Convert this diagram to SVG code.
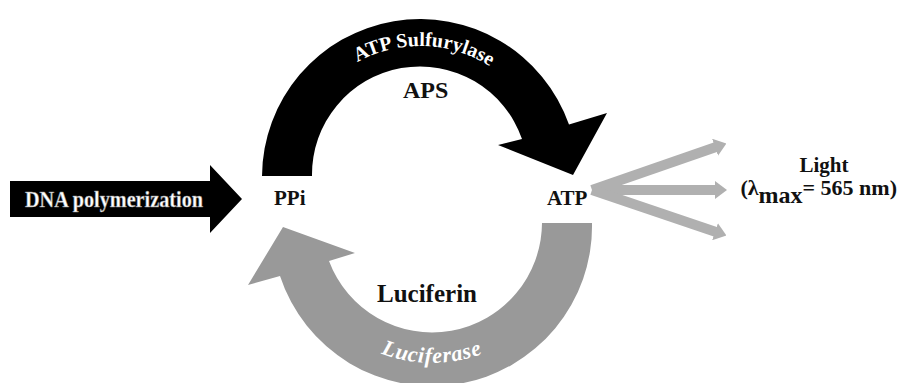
<svg xmlns="http://www.w3.org/2000/svg" width="899" height="383" viewBox="0 0 899 383">
<style>
.lbl{font-family:"Liberation Serif","Times New Roman",serif;font-weight:bold;fill:#111}
.arc-txt{font-family:"Liberation Serif","Times New Roman",serif;font-weight:bold;fill:#fff}
.light{stroke:#b0b0b0;stroke-width:10;fill:none}
</style>
<defs>
<marker id="lh" viewBox="0 0 12 18" markerWidth="12" markerHeight="18" refX="1" refY="9" orient="auto" markerUnits="userSpaceOnUse">
<path d="M0,0 L12,9 L0,18 z" fill="#b0b0b0"/>
</marker>
<path id="topArc" d="M 290,176 A 130,130 0 0 1 550,176"/>
<path id="botArc" d="M 292,223 A 140,140 0 0 0 572,223"/>
</defs>
<rect width="899" height="383" fill="#fff"/>
<g id="connectors">
<g id="dna-arrow">
<polygon points="10,181 210,181 210,165 242,199 210,233 210,217 10,217" fill="#000"/>
<text x="25" y="207" font-family="Liberation Serif, Times New Roman, serif" font-weight="bold" font-size="23" fill="#fff" stroke="#888" stroke-width="0.5" textLength="178" lengthAdjust="spacingAndGlyphs">DNA polymerization</text>
</g>
<g id="sulfurylase-arrow">
<path d="M 262,176 A 158,158 0 0 1 569,124.5 L 607,113 L 573,175 L 498,145 L 522,139 A 108,108 0 0 0 312,176 Z" fill="#000"/>
<text class="arc-txt" font-size="20"><textPath href="#topArc" startOffset="51%" text-anchor="middle">ATP Sulfurylase</textPath></text>
</g>
<g id="luciferase-arrow">
<path d="M 592,223 A 160,160 0 0 1 280,276 L 248,285 L 283,227 L 355,253 L 329,261 A 110,110 0 0 0 542,223 Z" fill="#999"/>
<text class="arc-txt" font-size="22" font-style="italic" letter-spacing="0.8"><textPath href="#botArc" startOffset="50%" text-anchor="middle">Luciferase</textPath></text>
</g>
<g id="light-arrows">
<line class="light" x1="592" y1="190" x2="716" y2="147" marker-end="url(#lh)"/>
<line class="light" x1="592" y1="190" x2="716" y2="190" marker-end="url(#lh)"/>
<line class="light" x1="592" y1="190" x2="716" y2="232" marker-end="url(#lh)"/>
</g>
</g>
<g id="node-ppi"><text class="lbl" x="274" y="205" font-size="21">PPi</text></g>
<g id="node-atp"><text class="lbl" x="547" y="205" font-size="21">ATP</text></g>
<g id="node-aps"><text class="lbl" x="403" y="98" font-size="24">APS</text></g>
<g id="node-luciferin"><text class="lbl" x="377" y="302" font-size="25">Luciferin</text></g>
<g id="node-light">
<text class="lbl" x="824" y="172" font-size="21" text-anchor="middle">Light</text>
<text class="lbl" x="897" y="195" font-size="22" text-anchor="end">(λ<tspan dy="8" font-size="24">max</tspan><tspan dy="-8">= 565 nm)</tspan></text>
</g>
</svg>
